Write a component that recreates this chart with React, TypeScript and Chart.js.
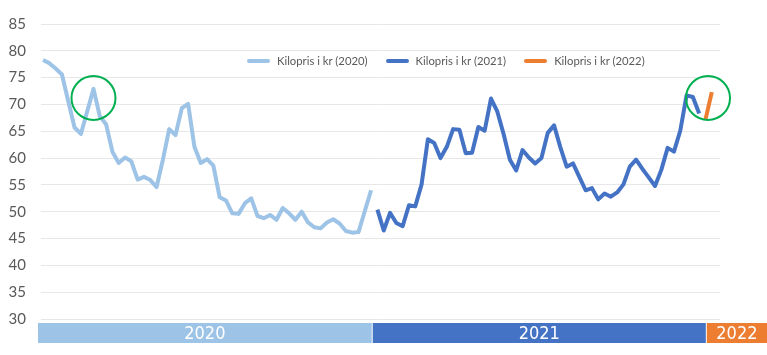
import React, { useEffect, useRef } from "react";
import { Chart, registerables } from "chart.js";

Chart.register(...registerables);

// ---- data ----
const years = ["2020", "2021", "2022"];
const seriesLabels = ["Kilopris i kr (2020)", "Kilopris i kr (2021)", "Kilopris i kr (2022)"];

// weekly kilo price (kr)
const price2020 = [
  78.3, 77.7, 76.7, 75.6, 70.6, 65.7, 64.5, 68.7, 72.9, 67.8,
  66.3, 61.2, 59.1, 60.1, 59.4, 56.0, 56.5, 55.9, 54.6, 59.7,
  65.4, 64.3, 69.3, 70.1, 62.1, 59.1, 59.8, 58.6, 52.7, 52.1,
  49.7, 49.6, 51.6, 52.5, 49.2, 48.8, 49.4, 48.5, 50.7, 49.7,
  48.5, 50.0, 48.0, 47.1, 46.9, 48.0, 48.6, 47.8, 46.4, 46.1,
  46.2, 50.1, 54.0,
];
const price2021 = [
  50.4, 46.5, 49.8, 47.9, 47.3, 51.2, 51.0, 55.1, 63.5, 62.8,
  60.0, 62.1, 65.4, 65.3, 60.9, 61.0, 65.8, 65.1, 71.1, 68.7,
  64.5, 59.7, 57.7, 61.5, 60.1, 59.0, 60.0, 64.7, 66.1, 62.0,
  58.4, 59.0, 56.5, 54.0, 54.4, 52.3, 53.4, 52.8, 53.6, 55.1,
  58.4, 59.7, 58.0, 56.4, 54.8, 57.8, 61.9, 61.2, 65.1, 71.7,
  71.4, 68.3,
];
const price2022 = [67.2, 72.3];

const yMin = 30;
const yMax = 85;
const yStep = 5;

// highlighted points (week index across all series, price)
const highlightIndex = [8, 105.4];
const highlightValue = [71.2, 71.2];

const colors = ["#9DC3E6", "#4472C4", "#ED7D31"];
const circleColor = "#00B050";

const allSeries = [price2020, price2021, price2022];
const starts: number[] = [];
{
  let acc = 0;
  for (const s of allSeries) {
    starts.push(acc);
    acc += s.length;
  }
}
const lastIndex = starts[2] + price2022.length - 1;

const overlayPlugin = {
  id: "overlay",
  afterDraw(chart: any) {
    const { ctx, chartArea } = chart;
    const x = chart.scales.x;
    const y = chart.scales.y;
    ctx.save();
    // circles
    ctx.strokeStyle = circleColor;
    ctx.lineWidth = 2;
    for (let k = 0; k < highlightIndex.length; k++) {
      ctx.beginPath();
      ctx.arc(x.getPixelForValue(highlightIndex[k]), y.getPixelForValue(highlightValue[k]), 22, 0, Math.PI * 2);
      ctx.stroke();
    }
    // year band
    const top = chartArea.bottom + 4;
    const h = 20;
    const edges = [
      chartArea.left - 3,
      x.getPixelForValue(starts[1] - 0.9),
      x.getPixelForValue(starts[2] + 0.05),
      chart.width,
    ];
    ctx.font = '18px "Liberation Sans Narrow", "DejaVu Sans Condensed", sans-serif';
    ctx.textAlign = "center";
    ctx.textBaseline = "middle";
    for (let k = 0; k < years.length; k++) {
      const l = edges[k] + (k > 0 ? 1 : 0);
      const r = edges[k + 1];
      ctx.fillStyle = colors[k];
      ctx.fillRect(l, top, r - l, h);
      ctx.fillStyle = "#ffffff";
      ctx.fillText(years[k], (l + r) / 2, top + h / 2 + 1);
    }
    ctx.restore();
  },
};

export default function App() {
  const ref = useRef<HTMLCanvasElement>(null);
  useEffect(() => {
    document.body.style.margin = "0";
    const datasets = allSeries.map((s, k) => ({
      label: seriesLabels[k],
      data: s.map((v, i) => ({ x: starts[k] + i, y: v })),
      borderColor: colors[k],
      backgroundColor: colors[k],
      borderWidth: 4,
      pointRadius: 0,
      tension: 0,
      borderJoinStyle: "round" as const,
    }));
    const chart = new Chart(ref.current!, {
      type: "line",
      data: { datasets },
      plugins: [overlayPlugin],
      options: {
        animation: false,
        responsive: false,
        layout: { padding: { left: 0, right: 47, top: 15, bottom: 36 } },
        plugins: { legend: { display: false }, tooltip: { enabled: false } },
        scales: {
          x: {
            type: "linear",
            display: false,
            min: -0.32,
            max: lastIndex + 1.3,
          },
          y: {
            min: yMin,
            max: yMax,
            border: { display: false },
            grid: { color: "#e7e7e7", lineWidth: 1, drawTicks: false },
            ticks: {
              stepSize: yStep,
              padding: 15,
              color: "#595959",
              font: { family: "Lato", size: 15 },
            },
            afterFit(scale: any) {
              scale.width = 41;
            },
          },
        },
      },
    });
    return () => chart.destroy();
  }, []);

  return (
    <div style={{ position: "relative", width: 767, height: 355, background: "#fff" }}>
      <canvas ref={ref} width={767} height={355} style={{ display: "block" }} />
      <div
        style={{
          position: "absolute",
          left: 247,
          top: 53,
          display: "flex",
          alignItems: "center",
          fontFamily: "Lato, sans-serif",
          fontSize: 11.3,
          color: "#595959",
          whiteSpace: "nowrap",
          lineHeight: "16px",
        }}
      >
        {seriesLabels.map((lab, k) => (
          <div key={lab} style={{ display: "flex", alignItems: "center", marginRight: k < 2 ? 18 : 0 }}>
            <span
              style={{
                display: "inline-block",
                width: 23,
                height: 4,
                borderRadius: 2,
                background: colors[k],
                marginRight: 7,
              }}
            />
            <span>{lab}</span>
          </div>
        ))}
      </div>
    </div>
  );
}
